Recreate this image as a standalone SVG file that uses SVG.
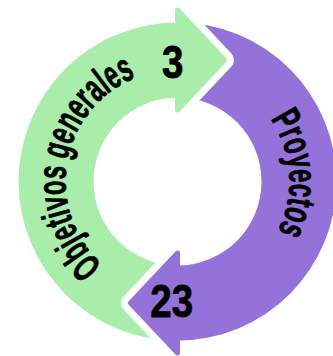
<svg xmlns="http://www.w3.org/2000/svg" width="333" height="356" viewBox="0 0 333 356">
<style>
.green{fill:#a8eeaa}
.purple{fill:#9571da}
.ghead{fill:#a8eeaa;stroke:#a8eeaa;stroke-width:5;stroke-linejoin:round}
.phead{fill:#9571da;stroke:#9571da;stroke-width:5;stroke-linejoin:round}
.gap{fill:none;stroke:#ffffff;stroke-width:19;stroke-linejoin:round;stroke-linecap:round}
.lbl{font-family:"Liberation Sans",Arial,sans-serif;font-weight:700;fill:#000000;stroke:#000000;stroke-width:0.8;stroke-linejoin:round}
</style>
<defs>
<path id="arcObj" d="M148.51,289.68 A112,112 0 0 1 187.26,69.93"/>
<path id="arcPro" d="M189.69,70.17 A112,112 0 0 1 204.12,290.29"/>
</defs>
<rect width="333" height="356" fill="#ffffff"/>
<g id="ring">
<path class="green" d="M177.5,340.5 A159,159 0 0 1 177.5,22.5 L177.5,97.5 A84,84 0 0 0 177.5,265.5 Z"/>
<path class="purple" d="M177.5,22.5 A159,159 0 0 1 177.5,340.5 L177.5,265.5 A84,84 0 0 0 177.5,97.5 Z"/>
</g>
<g id="objetivos">
<polyline class="gap" points="177.5,10 224.5,60 177.5,110"/>
<polygon class="ghead" points="177.5,10 224.5,60 177.5,110"/>
<text class="lbl" font-size="40"><textPath href="#arcObj" startOffset="50%" text-anchor="middle" textLength="227" lengthAdjust="spacingAndGlyphs">Objetivos generales</textPath></text>
<text class="lbl" font-size="47" text-anchor="middle" transform="translate(172.7,78.3) scale(0.82,1)">3</text>
</g>
<g id="proyectos">
<polyline class="gap" points="177.5,253 130.5,303 177.5,353"/>
<polygon class="phead" points="177.5,253 130.5,303 177.5,353"/>
<text class="lbl" font-size="40"><textPath href="#arcPro" startOffset="50%" text-anchor="middle" textLength="118" lengthAdjust="spacingAndGlyphs">Proyectos</textPath></text>
<text class="lbl" font-size="47" text-anchor="middle" transform="translate(171.7,316.7) scale(0.82,1)">23</text>
</g>
</svg>
